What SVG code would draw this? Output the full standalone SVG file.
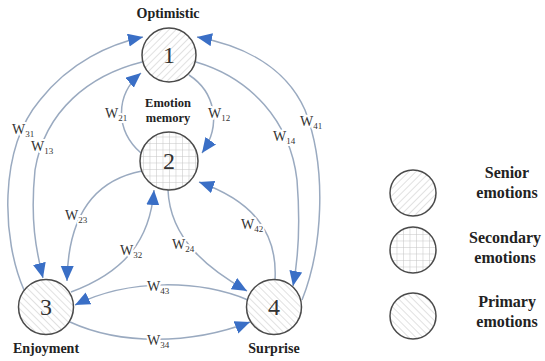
<svg xmlns="http://www.w3.org/2000/svg" width="545" height="361" viewBox="0 0 545 361">
<style>
.edge{fill:none;stroke:#9aaac0;stroke-width:1.5;marker-end:url(#ah)}
.node{stroke:#4a4a4a;stroke-width:1.5}
.num{font-family:"Liberation Serif","Times New Roman",serif;font-size:24px;fill:#333;text-anchor:middle}
.name{font-family:"Liberation Serif","Times New Roman",serif;font-size:14px;font-weight:bold;fill:#222;text-anchor:middle}
.name2{font-family:"Liberation Serif","Times New Roman",serif;font-size:12.5px;font-weight:bold;fill:#222;text-anchor:middle}
.leg{font-family:"Liberation Serif","Times New Roman",serif;font-size:16px;font-weight:bold;fill:#222;text-anchor:middle}
.w{font-family:"Liberation Serif","Times New Roman",serif;font-size:14px;fill:#333;paint-order:stroke;stroke:#fff;stroke-width:4px;stroke-linejoin:round}
.sub{font-size:9px}
</style>
<defs>
<marker id="ah" markerUnits="userSpaceOnUse" markerWidth="16" markerHeight="14" refX="15" refY="6.5" orient="auto">
<path d="M0,0 L15,6.5 L0,13 z" fill="#3a6fc6"/>
</marker>
<pattern id="hs" patternUnits="userSpaceOnUse" width="5" height="5" patternTransform="rotate(45)">
<rect width="5" height="5" fill="#fff"/>
<line x1="0" y1="0" x2="0" y2="5" stroke="#c4c4c4" stroke-width="1"/>
</pattern>
<pattern id="hp" patternUnits="userSpaceOnUse" width="5" height="5" patternTransform="rotate(-45)">
<rect width="5" height="5" fill="#fff"/>
<line x1="0" y1="0" x2="0" y2="5" stroke="#c4c4c4" stroke-width="1"/>
</pattern>
<pattern id="grid" patternUnits="userSpaceOnUse" width="6.5" height="6.5">
<rect width="6.5" height="6.5" fill="#fff"/>
<path d="M0,0 V6.5 M0,0 H6.5" stroke="#c4c4c4" stroke-width="1"/>
</pattern>
</defs>

<g id="connectors">
<path class="edge" d="M24,290 C2,240 -2,150 40,100 C70,62 110,44 143,37"/>
<path class="edge" d="M142,62 C90,75 45,110 35,170 C30,220 36,250 43,278"/>
<path class="edge" d="M196,62 C250,78 290,120 297,180 C301,230 298,260 293,286"/>
<path class="edge" d="M302,300 C322,250 328,170 305,110 C285,65 240,45 197,37"/>
<path class="edge" d="M141,153 C115,130 115,95 141,73"/>
<path class="edge" d="M189,75 C215,92 222,125 202,153"/>
<path class="edge" d="M142,171 C95,180 68,215 67,281"/>
<path class="edge" d="M71,292 C125,272 150,240 154,190"/>
<path class="edge" d="M168,190 C170,240 210,270 247,291"/>
<path class="edge" d="M275,280 C278,230 250,200 199,182"/>
<path class="edge" d="M248,300 C200,280 130,278 75,305"/>
<path class="edge" d="M70,322 C120,345 190,345 250,322"/>
<text class="w" x="12" y="134">W<tspan class="sub" dy="3">31</tspan></text>
<text class="w" x="31" y="151">W<tspan class="sub" dy="3">13</tspan></text>
<text class="w" x="273" y="141">W<tspan class="sub" dy="3">14</tspan></text>
<text class="w" x="300" y="126">W<tspan class="sub" dy="3">41</tspan></text>
<text class="w" x="105" y="118">W<tspan class="sub" dy="3">21</tspan></text>
<text class="w" x="208" y="118">W<tspan class="sub" dy="3">12</tspan></text>
<text class="w" x="65" y="220">W<tspan class="sub" dy="3">23</tspan></text>
<text class="w" x="120" y="255">W<tspan class="sub" dy="3">32</tspan></text>
<text class="w" x="172" y="249">W<tspan class="sub" dy="3">24</tspan></text>
<text class="w" x="241" y="229">W<tspan class="sub" dy="3">42</tspan></text>
<text class="w" x="147" y="291">W<tspan class="sub" dy="3">43</tspan></text>
<text class="w" x="147" y="345">W<tspan class="sub" dy="3">34</tspan></text>
</g>

<g id="node1">
<circle class="node" cx="169" cy="55" r="27" fill="url(#hs)"/>
<text class="num" x="169" y="63">1</text>
<text class="name" x="168" y="18">Optimistic</text>
</g>
<g id="node2">
<circle class="node" cx="169" cy="161" r="29" fill="url(#grid)"/>
<text class="num" x="169" y="169">2</text>
<text class="name2" x="168" y="107">Emotion</text>
<text class="name2" x="168" y="122">memory</text>
</g>
<g id="node3">
<circle class="node" cx="46" cy="307" r="27.5" fill="url(#hp)"/>
<text class="num" x="46" y="315">3</text>
<text class="name" x="46" y="353">Enjoyment</text>
</g>
<g id="node4">
<circle class="node" cx="274" cy="307" r="27.5" fill="url(#hp)"/>
<text class="num" x="274" y="315">4</text>
<text class="name" x="274" y="353">Surprise</text>
</g>

<g id="legend">
<g id="legend-senior">
<circle class="node" cx="413" cy="193" r="23" fill="url(#hs)"/>
<text class="leg" x="507" y="178">Senior</text>
<text class="leg" x="507" y="198">emotions</text>
</g>
<g id="legend-secondary">
<circle class="node" cx="413" cy="250" r="23" fill="url(#grid)"/>
<text class="leg" x="505" y="243">Secondary</text>
<text class="leg" x="505" y="263">emotions</text>
</g>
<g id="legend-primary">
<circle class="node" cx="413" cy="316" r="23" fill="url(#hp)"/>
<text class="leg" x="507" y="307">Primary</text>
<text class="leg" x="507" y="327">emotions</text>
</g>
</g>
</svg>
